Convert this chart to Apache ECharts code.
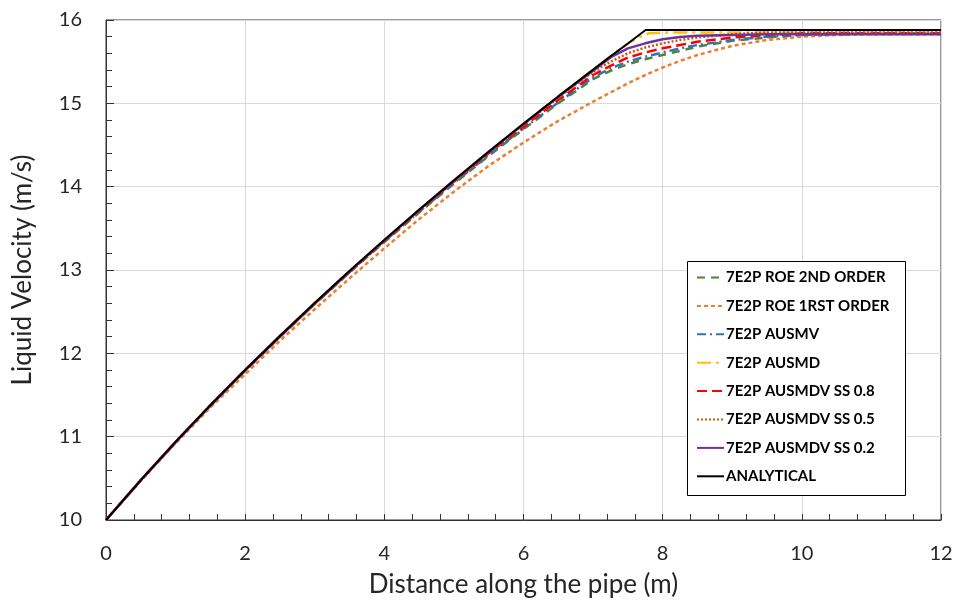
<!DOCTYPE html>
<html>
<head>
<meta charset="utf-8">
<script src="https://cdn.jsdelivr.net/npm/echarts@6/dist/echarts.min.js"></script>
<style>html,body{margin:0;padding:0;background:#fff}#c{width:957px;height:602px}</style>
</head>
<body>
<div id="c"></div>
<script>
// Shared x positions (m) for numerical solutions
const xs = [0,0.5,1,1.5,2,2.5,3,3.5,4,4.5,5,5.5,6,6.5,7,7.25,7.5,7.75,8,8.25,8.5,9,9.5,10,10.5,11,11.5,12];

const roe2nd   = [10,10.475,10.93,11.37,11.79,12.195,12.59,12.97,13.335,13.69,14.035,14.37,14.69,15.00,15.29,15.39,15.47,15.53,15.58,15.63,15.68,15.75,15.79,15.82,15.83,15.84,15.84,15.84];
const roe1st   = [10,10.47,10.92,11.35,11.75,12.15,12.53,12.90,13.26,13.61,13.94,14.25,14.53,14.79,15.02,15.13,15.24,15.34,15.43,15.51,15.58,15.69,15.76,15.80,15.82,15.83,15.83,15.83];
const ausmv    = [10,10.476,10.932,11.372,11.793,12.2,12.593,12.975,13.343,13.70,14.045,14.38,14.70,15.01,15.31,15.42,15.50,15.56,15.61,15.66,15.70,15.76,15.80,15.82,15.83,15.84,15.84,15.84];
const ss08     = [10,10.477,10.934,11.373,11.795,12.202,12.596,12.978,13.348,13.71,14.06,14.40,14.72,15.04,15.34,15.45,15.55,15.61,15.66,15.70,15.74,15.79,15.82,15.84,15.84,15.84,15.84,15.84];
const ss05     = [10,10.478,10.936,11.376,11.798,12.206,12.601,12.983,13.354,13.716,14.068,14.41,14.745,15.07,15.38,15.50,15.60,15.67,15.72,15.76,15.79,15.83,15.85,15.85,15.85,15.85,15.85,15.85];
const ss02     = [10,10.479,10.937,11.377,11.80,12.208,12.603,12.986,13.358,13.721,14.074,14.418,14.752,15.078,15.39,15.55,15.66,15.72,15.77,15.795,15.81,15.82,15.83,15.83,15.83,15.83,15.83,15.83];

// AUSMD
const xsAusmd  = [0,0.5,1,1.5,2,2.5,3,3.5,4,4.5,5,5.5,6,6.5,7,7.5,7.65,7.8,8,12];
const ausmd    = [10,10.479,10.937,11.377,11.80,12.209,12.604,12.987,13.359,13.722,14.075,14.419,14.755,15.083,15.404,15.718,15.79,15.84,15.85,15.85];

// Analytical
const xsAna    = [0,0.5,1,1.5,2,2.5,3,3.5,4,4.5,5,5.5,6,6.5,7,7.25,7.5,7.755,12];
const analytic = [10,10.479,10.937,11.377,11.800,12.209,12.604,12.987,13.359,13.722,14.075,14.419,14.755,15.083,15.404,15.564,15.718,15.88,15.88];

const names = ['7E2P ROE 2ND ORDER','7E2P ROE 1RST ORDER','7E2P AUSMV','7E2P AUSMD','7E2P AUSMDV SS 0.8','7E2P AUSMDV SS 0.5','7E2P AUSMDV SS 0.2','ANALYTICAL'];
const xTicks = [0,2,4,6,8,10,12];
const yTicks = [10,11,12,13,14,15,16];

const pairs = (x, y) => x.map((v, i) => [v, y[i]]);
const FONT = 'Lato';

function mk(name, x, y, color, width, type) {
  return {
    name, type: 'line', data: pairs(x, y), symbol: 'none', showSymbol: false, smooth: false,
    lineStyle: { color, width, type }, itemStyle: { color }, animation: false
  };
}

const chart = echarts.init(document.getElementById('c'), null, { renderer: 'canvas' });
chart.setOption({
  animation: false,
  grid: { left: 106, right: 16, top: 20, bottom: 82, show: true, borderColor: '#333', borderWidth: 1,
          containLabel: false, outerBoundsMode: 'none' },
  xAxis: {
    type: 'value', min: xTicks[0], max: xTicks[xTicks.length - 1], interval: 2,
    name: 'Distance along the pipe (m)', nameLocation: 'middle', nameGap: 52,
    nameTextStyle: { fontFamily: FONT, fontSize: 26, color: '#262626' },
    axisLine: { lineStyle: { color: '#333', width: 1 } },
    axisTick: { show: true, inside: true, length: 6, lineStyle: { color: '#333' } },
    minorTick: { show: true, splitNumber: 5, length: 6, lineStyle: { color: '#333' } },
    axisLabel: { fontFamily: FONT, fontSize: 20, color: '#262626', margin: 24 },
    splitLine: { show: true, lineStyle: { color: '#d9d9d9', width: 1 } }
  },
  yAxis: {
    type: 'value', min: yTicks[0], max: yTicks[yTicks.length - 1], interval: 1,
    name: 'Liquid Velocity (m/s)', nameLocation: 'middle', nameGap: 70,
    nameTextStyle: { fontFamily: FONT, fontSize: 26, color: '#262626' },
    axisLine: { show: true, lineStyle: { color: '#333', width: 1 } },
    axisTick: { show: true, inside: true, length: 8, lineStyle: { color: '#333' } },
    minorTick: { show: true, splitNumber: 5, length: 6, lineStyle: { color: '#333' } },
    axisLabel: { fontFamily: FONT, fontSize: 20, color: '#262626', margin: 24 },
    splitLine: { show: true, lineStyle: { color: '#d9d9d9', width: 1 } }
  },
  graphic: [{
    type: 'rect', z: 50, shape: { x: 687.5, y: 261.5, width: 218, height: 234 },
    style: { fill: '#fff', stroke: '#000', lineWidth: 1 }
  }],
  legend: {
    z: 60, orient: 'vertical', left: 696, top: 270, padding: 0,
    itemWidth: 27, itemHeight: 14, itemGap: 13.4,
    itemStyle: { opacity: 0 },
    textStyle: { fontFamily: FONT, fontSize: 15, fontWeight: 'bold', color: '#000', padding: [0, 0, 0, -3] },
    data: names
  },
  series: [
    mk(names[0], xs, roe2nd, '#548235', 2.5, [8, 6]),
    mk(names[1], xs, roe1st, '#ED7D31', 2.5, [4, 3]),
    mk(names[2], xs, ausmv, '#2E75B6', 2.5, [9, 4, 2, 4]),
    mk(names[3], xsAusmd, ausmd, '#FFC000', 2.5, [14, 5, 3, 5]),
    mk(names[4], xs, ss08, '#FF0000', 2.5, [10, 5]),
    mk(names[5], xs, ss05, '#C55A11', 2.5, [2, 2]),
    mk(names[6], xs, ss02, '#7030A0', 2.5, 'solid'),
    mk(names[7], xsAna, analytic, '#000000', 2, 'solid')
  ]
});
</script>
</body>
</html>
